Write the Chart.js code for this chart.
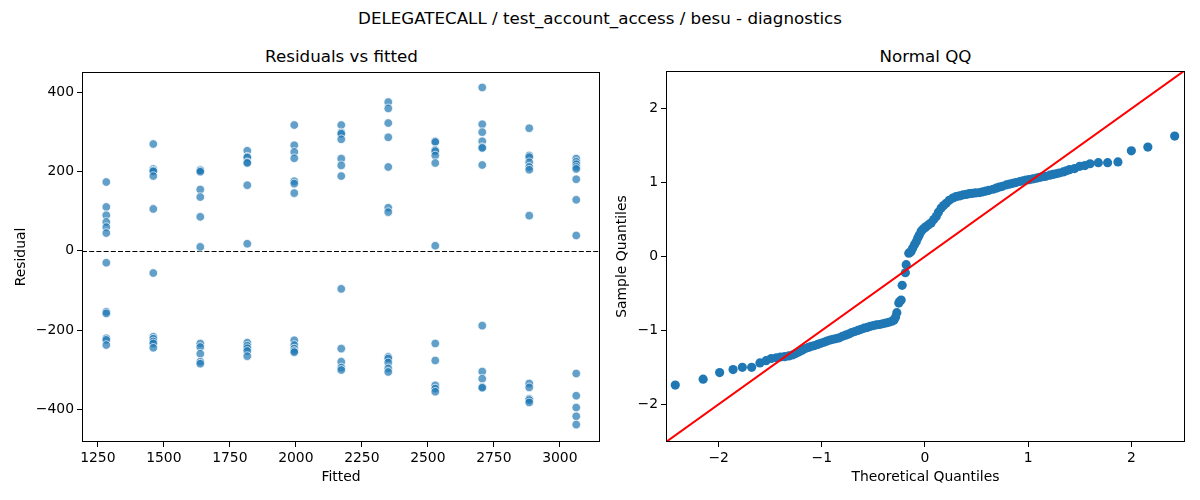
<!DOCTYPE html>
<html>
<head>
<meta charset="utf-8">
<script src="https://cdn.jsdelivr.net/npm/chart.js@4.4.1/dist/chart.umd.min.js"></script>
<style>
  body { margin:0; background:#fff; font-family:"DejaVu Sans", sans-serif; }
  #wrap { position:relative; width:1200px; height:500px; overflow:hidden; }
  .t { position:absolute; font-size:16.7px; line-height:20px; color:#000; white-space:nowrap; transform:translateX(-50%); }
  canvas { position:absolute; top:0; }
</style>
</head>
<body>
<div id="wrap">
  <div class="t" style="left:600px; top:8px;">DELEGATECALL / test_account_access / besu - diagnostics</div>
  <div class="t" style="left:341.5px; top:46px;">Residuals vs fitted</div>
  <div class="t" style="left:925.5px; top:46px;">Normal QQ</div>
  <canvas id="Resid" width="605" height="500" style="left:0px;"></canvas>
  <canvas id="QQ" width="590" height="500" style="left:610px;"></canvas>
</div>
<script>
// fitted values (one column of points each)
var fitted = [1282, 1460, 1638, 1816, 1994, 2172, 2350, 2528, 2706, 2884, 3062];
var res01 = [174, 111, 90, 73, 60, 45, -30, -154, -158, -221, -225, -238];
var res02 = [270, 207, 203, 201, 189, 106, -56, -217, -222, -229, -234, -245];
var res03 = [205, 203, 200, 155, 136, 86, 10, -234, -243, -260, -280, -285];
var res04 = [253, 238, 236, 224, 222, 166, 18, -232, -240, -246, -253, -266];
var res05 = [318, 267, 250, 234, 176, 170, 146, -226, -238, -247, -253, -256];
var res06 = [318, 299, 296, 282, 233, 216, 189, -96, -247, -280, -295, -301];
var res07 = [376, 360, 323, 287, 212, 109, 98, -268, -272, -282, -297, -306];
var res08 = [277, 275, 255, 252, 241, 222, 13, -234, -277, -340, -348, -356];
var res09 = [413, 320, 300, 277, 262, 260, 217, -189, -305, -323, -344, -346];
var res10 = [310, 241, 237, 224, 212, 205, 89, -335, -345, -374, -377, -383];
var res11 = [233, 225, 219, 212, 207, 181, 129, 39, -310, -366, -396, -418, -439];
var residCols = [res01, res02, res03, res04, res05, res06, res07, res08, res09, res10, res11];

var residXTicks = [1250, 1500, 1750, 2000, 2250, 2500, 2750, 3000];
var residYTicks = [-400, -200, 0, 200, 400];
var zeroLine = 0;

// QQ points
var qqTheory = [-2.42,-2.15,-1.99,-1.86,-1.77,-1.68,-1.60,-1.54,-1.49,-1.44,-1.40,-1.36,-1.32,-1.28,-1.25,-1.22,-1.19,-1.16,-1.13,-1.10,
  -1.07,-1.04,-1.01,-0.98,-0.95,-0.92,-0.89,-0.86,-0.83,-0.80,-0.77,-0.74,-0.71,-0.68,-0.65,-0.62,-0.59,-0.56,-0.53,-0.50,
  -0.47,-0.44,-0.41,-0.38,-0.35,-0.32,-0.30,-0.285,-0.273,-0.254,-0.245,-0.231,-0.221,-0.19,-0.182,-0.157,-0.145,-0.134,-0.12,-0.102,
  -0.085,-0.07,-0.055,-0.037,-0.02,0.0,0.012,0.035,0.06,0.085,0.109,0.13,0.157,0.18,0.205,0.235,0.27,0.30,0.334,0.37,
  0.40,0.43,0.46,0.49,0.53,0.56,0.59,0.62,0.66,0.69,0.72,0.75,0.79,0.82,0.85,0.88,0.92,0.95,0.98,1.01,
  1.045,1.08,1.11,1.14,1.17,1.21,1.24,1.27,1.30,1.34,1.37,1.40,1.45,1.50,1.55,1.60,1.68,1.77,1.87,2.00,2.16,2.42];
var qqSample = [-1.74,-1.66,-1.57,-1.53,-1.50,-1.50,-1.44,-1.41,-1.38,-1.37,-1.36,-1.355,-1.345,-1.33,-1.31,-1.29,-1.27,-1.245,-1.23,-1.215,
  -1.205,-1.19,-1.175,-1.16,-1.145,-1.13,-1.12,-1.11,-1.10,-1.08,-1.065,-1.05,-1.03,-1.015,-1.00,-0.985,-0.97,-0.96,-0.945,-0.935,
  -0.925,-0.92,-0.91,-0.90,-0.89,-0.875,-0.86,-0.82,-0.76,-0.63,-0.61,-0.59,-0.39,-0.22,-0.11,0.045,0.055,0.07,0.11,0.16,
  0.20,0.25,0.29,0.34,0.37,0.39,0.405,0.43,0.455,0.50,0.54,0.60,0.655,0.69,0.72,0.76,0.79,0.81,0.82,0.835,
  0.84,0.85,0.855,0.86,0.865,0.875,0.885,0.895,0.91,0.925,0.94,0.95,0.97,0.98,0.99,1.00,1.015,1.025,1.035,1.04,
  1.05,1.06,1.07,1.08,1.085,1.10,1.11,1.12,1.13,1.145,1.16,1.175,1.19,1.22,1.23,1.255,1.27,1.27,1.28,1.43,1.48,1.63];
var qqLineX = [-2.6, 2.6];
var qqTicks = [-2, -1, 0, 1, 2];

var residPoints = [];
for (var i = 0; i < fitted.length; i++) {
  for (var j = 0; j < residCols[i].length; j++) {
    residPoints.push({x: fitted[i], y: residCols[i][j]});
  }
}
var qqPoints = qqTheory.map((t, i) => ({x: t, y: qqSample[i]}));
var qqLine = qqLineX.map(v => ({x: v, y: v}));

Chart.defaults.font.family = '"DejaVu Sans", sans-serif';
Chart.defaults.font.size = 13.9;
Chart.defaults.color = '#000';
Chart.defaults.animation = false;

/* box around the plot area, plus the dashed zero line */
var framePlugin = {
  id: 'frame',
  beforeDatasetsDraw(chart) {
    var zl = chart.options.plugins.frame.zero;
    if (zl === undefined) return;
    var a = chart.chartArea, c = chart.ctx;
    var y = Math.round(chart.scales.y.getPixelForValue(zl)) + 0.5;
    c.save();
    c.strokeStyle = '#000';
    c.lineWidth = 1;
    c.setLineDash([5, 2.2]);
    c.beginPath(); c.moveTo(a.left, y); c.lineTo(a.right, y); c.stroke();
    c.restore();
  },
  afterDatasetsDraw(chart) {
    var a = chart.chartArea, c = chart.ctx;
    c.save();
    c.strokeStyle = '#000';
    c.lineWidth = 1;
    c.strokeRect(a.left + 0.5, a.top + 0.5, a.right - a.left - 1, a.bottom - a.top - 1);
    c.restore();
  }
};

function axis(opts) {
  var o = {
    type: 'linear',
    min: opts.min, max: opts.max,
    afterBuildTicks: s => { s.ticks = opts.ticks.map(v => ({value: v})); },
    afterFit: s => { if (opts.w) s.width = opts.w; if (opts.h) s.height = opts.h; },
    grid: {drawOnChartArea: false, drawTicks: true, tickLength: 5, color: '#000'},
    border: {display: false},
    ticks: {
      padding: 3, font: {size: 13.9}, color: '#000',
      callback: v => String(v).replace('-', '\u2212')
    },
    title: {display: true, text: opts.title, font: {size: 13.9}, color: '#000', padding: opts.tpad}
  };
  return o;
}

new Chart(document.getElementById('Resid').getContext('2d'), {
  type: 'scatter',
  data: {
    datasets: [{
      data: residPoints,
      backgroundColor: 'rgba(31,119,180,0.7)',
      borderColor: '#ffffff',
      borderWidth: 0.7,
      pointRadius: 4.3,
      pointHoverRadius: 4.3
    }]
  },
  options: {
    responsive: false,
    layout: {padding: {left: 0, right: 4, top: 72, bottom: 0}},
    plugins: {legend: {display: false}, tooltip: {enabled: false}, frame: {zero: zeroLine}},
    scales: {
      x: axis({min: 1190, max: 3152, ticks: residXTicks, h: 58, title: 'Fitted', tpad: {top: 0, bottom: 14}}),
      y: axis({min: -483, max: 452, ticks: residYTicks, w: 82, title: 'Residual', tpad: {top: 13, bottom: 0}})
    }
  },
  plugins: [framePlugin]
});

new Chart(document.getElementById('QQ').getContext('2d'), {
  type: 'scatter',
  data: {
    datasets: [{
      data: qqPoints,
      backgroundColor: '#1f77b4',
      borderColor: '#1f77b4',
      borderWidth: 0,
      pointRadius: 4.6,
      pointHoverRadius: 4.6,
      order: 2
    }, {
      type: 'line',
      data: qqLine,
      borderColor: '#ff0000',
      borderWidth: 2,
      pointRadius: 0,
      fill: false,
      order: 1
    }]
  },
  options: {
    responsive: false,
    layout: {padding: {left: 0, right: 15, top: 71, bottom: 0}},
    plugins: {legend: {display: false}, tooltip: {enabled: false}, frame: {}},
    scales: {
      x: axis({min: -2.51, max: 2.52, ticks: qqTicks, h: 58, title: 'Theoretical Quantiles', tpad: {top: 0, bottom: 14}}),
      y: axis({min: -2.51, max: 2.51, ticks: qqTicks, w: 56, title: 'Sample Quantiles', tpad: {top: 4, bottom: 0}})
    }
  },
  plugins: [framePlugin]
});
</script>
</body>
</html>
